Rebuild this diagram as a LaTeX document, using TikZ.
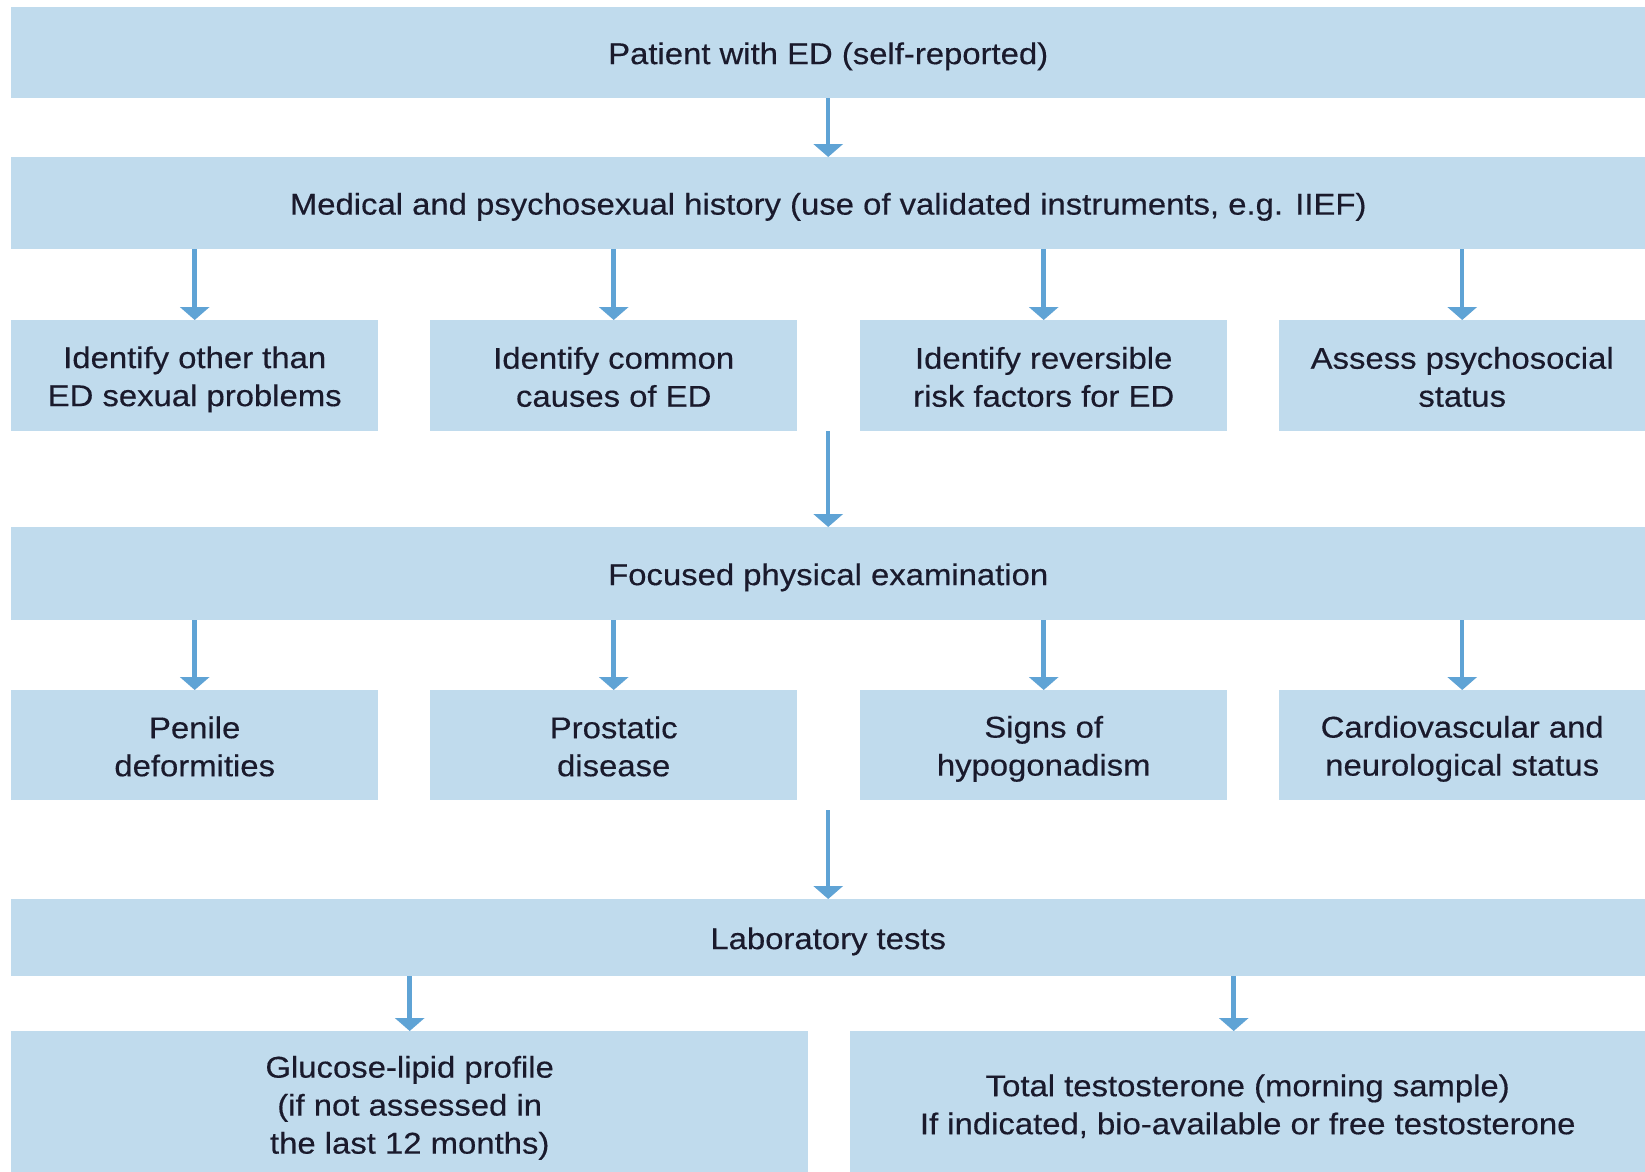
\documentclass[tikz,border=0pt]{standalone}
\usepackage{fontspec}
\setmainfont{Liberation Sans}[FakeStretch=1.095, FakeBold=0.4]
\usetikzlibrary{arrows.meta}
\definecolor{boxblue}{RGB}{192,219,237}
\definecolor{arrowblue}{RGB}{95,163,213}
\definecolor{txt}{RGB}{26,26,44}
% uniform line strut: keeps every line at the same height and depth
\newcommand{\ls}{\rule[-5pt]{0pt}{34pt}}
\begin{document}
\begin{tikzpicture}[x=1pt,y=-1pt,
  box/.style={fill=boxblue, draw=none, inner sep=0pt, align=center, anchor=north west,
    text=txt, font=\fontsize{30}{38}\selectfont},
  wide/.style={box, minimum width=1634pt, minimum height=#1},
  cell/.style={box, minimum width=367pt, minimum height=111pt},
  arr/.style={draw=arrowblue, line width=4.5pt, -{Triangle[width=29pt,length=13pt]}}]
\clip (0,0) rectangle (1645,1171);
\fill[white] (0,0) rectangle (1645,1171);

% main stages
\node[wide=91pt]  (patient) at (11,7)   {\ls Patient with ED (self-reported)};
\node[wide=92pt]  (history) at (11,157) {\ls Medical and psychosexual history (use of validated instruments, e.g. IIEF)};
\node[wide=93pt]  (exam)    at (11,527) {\ls Focused physical examination};
\node[wide=77pt]  (lab)     at (11,899) {\ls Laboratory tests};

% history outcomes
\node[cell] (h1) at (11,320)   {\ls Identify other than\\\ls ED sexual problems};
\node[cell] (h2) at (430,320)  {\ls Identify common\\\ls causes of ED};
\node[cell] (h3) at (860,320)  {\ls Identify reversible\\\ls risk factors for ED};
\node[cell, minimum width=366pt] (h4) at (1279,320) {\ls Assess psychosocial\\\ls status};

% examination findings
\node[cell, minimum height=110pt] (e1) at (11,690)   {\ls Penile\\\ls deformities};
\node[cell, minimum height=110pt] (e2) at (430,690)  {\ls Prostatic\\\ls disease};
\node[cell, minimum height=110pt] (e3) at (860,690)  {\ls Signs of\\\ls hypogonadism};
\node[cell, minimum height=110pt, minimum width=366pt] (e4) at (1279,690) {\ls Cardiovascular and\\\ls neurological status};

% laboratory panels
\node[box, minimum width=797pt, minimum height=146pt] (l1) at (11,1031)
  {\ls Glucose-lipid profile\\\ls (if not assessed in\\\ls the last 12 months)};
\node[box, minimum width=795pt, minimum height=144pt] (l2) at (850,1031)
  {\ls Total testosterone (morning sample)\\\ls If indicated, bio-available or free testosterone};

% connectors
\draw[arr] (patient) -- (history);
\foreach \n in {h1,h2,h3,h4} \draw[arr] (history.south -| \n) -- (\n.north);
\draw[arr] (h2.south -| exam) -- (exam.north);
\foreach \n in {e1,e2,e3,e4} \draw[arr] (exam.south -| \n) -- (\n.north);
\draw[arr, shorten <=10pt] (e2.south -| lab) -- (lab.north);
\draw[arr] (lab.south -| l1) -- (l1.north);
\coordinate (l2top) at ([xshift=-14pt]l2.north);
\draw[arr] (lab.south -| l2top) -- (l2top);
\end{tikzpicture}
\end{document}
